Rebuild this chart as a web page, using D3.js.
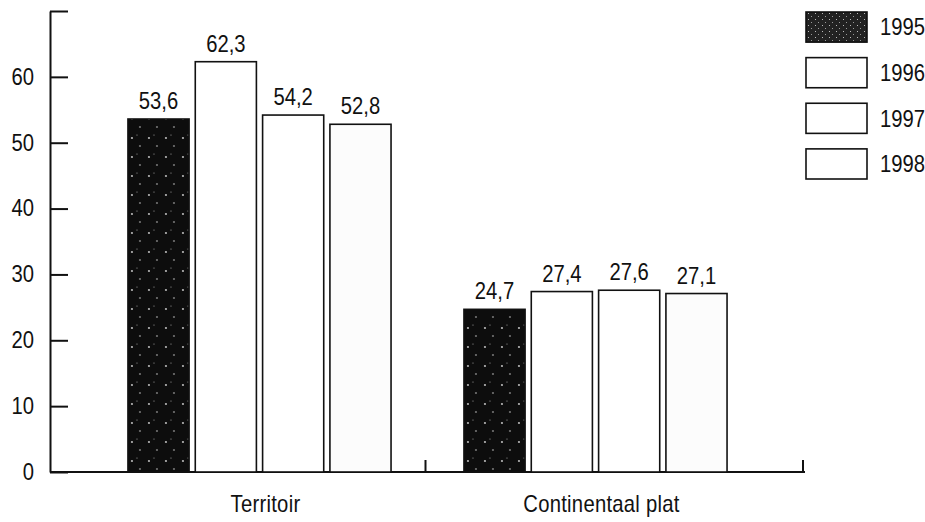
<!DOCTYPE html>
<html lang="nl">
<head>
    <meta charset="UTF-8">
    <title>Territoir en Continentaal plat 1995-1998</title>
    <script src="https://d3js.org/d3.v7.min.js"></script>
    <style>
        body {
            margin: 0;
            background: #fff;
        }
        svg text {
            font-family: "Liberation Sans", Arial, sans-serif;
            font-size: 23px;
            fill: #111;
        }
        .axis path, .axis line {
            stroke: #111;
            stroke-width: 2;
        }
        .bar {
            stroke: #111;
            stroke-width: 1.6;
        }
        text.cat {
            letter-spacing: 0.3px;
        }
    </style>
</head>
<body>
<div id="chart"></div>
<script>
    // data
    const groups = ["Territoir", "Continentaal plat"];
    const years = ["1995", "1996", "1997", "1998"];
    const territoir = [53.6, 62.3, 54.2, 52.8];
    const continentaal = [24.7, 27.4, 27.6, 27.1];
    const yTicks = [0, 10, 20, 30, 40, 50, 60, 70];

    const seriesByGroup = { "Territoir": territoir, "Continentaal plat": continentaal };

    const width = 925, height = 522;
    const squeeze = 0.88; // the original uses a condensed typeface

    const svg = d3.select("#chart").append("svg")
        .attr("width", width)
        .attr("height", height);

    // narrow the text horizontally while keeping its anchor point
    function condense(sel) {
        sel.each(function() {
            const t = d3.select(this);
            const x = +t.attr("x") || 0;
            t.attr("x", x / squeeze)
                .attr("transform", `scale(${squeeze},1)`);
        });
    }

    // dark speckled fill for 1995
    const defs = svg.append("defs");
    const pat = defs.append("pattern")
        .attr("id", "dark")
        .attr("width", 17).attr("height", 19)
        .attr("patternUnits", "userSpaceOnUse");
    pat.append("rect").attr("width", 17).attr("height", 19).attr("fill", "#0d0d0d");
    pat.append("circle").attr("cx", 4).attr("cy", 5).attr("r", 0.9).attr("fill", "#ddd");
    pat.append("circle").attr("cx", 12).attr("cy", 13).attr("r", 0.8).attr("fill", "#ccc");
    pat.append("circle").attr("cx", 9).attr("cy", 2).attr("r", 0.6).attr("fill", "#aaa");

    const legendPat = defs.append("pattern")
        .attr("id", "darkLegend")
        .attr("width", 7).attr("height", 6)
        .attr("patternUnits", "userSpaceOnUse");
    legendPat.append("rect").attr("width", 7).attr("height", 6).attr("fill", "#222");
    legendPat.append("rect").attr("x", 2).attr("y", 1).attr("width", 1).attr("height", 1).attr("fill", "#bbb");
    legendPat.append("rect").attr("x", 5).attr("y", 4).attr("width", 1).attr("height", 1).attr("fill", "#999");

    const fills = {
        "1995": "url(#dark)",
        "1996": "#fff",
        "1997": "#fff",
        "1998": "#fcfcfc"
    };

    const y = d3.scaleLinear()
        .domain([0, 70])
        .range([472, 11]);

    // sections of the x axis
    const xs = d3.scaleBand()
        .domain(groups)
        .range([50, 805]);

    const x0 = d3.scaleBand()
        .domain(groups)
        .range([50, 805])
        .paddingInner(0.217)
        .paddingOuter(0.232);

    const x1 = d3.scaleBand()
        .domain(years)
        .range([0, x0.bandwidth()])
        .paddingInner(0.092);

    const fmt = d3.formatLocale({ decimal: ",", thousands: ".", grouping: [3], currency: ["", ""] }).format(".1f");

    // Y axis with inward ticks
    svg.append("g")
        .attr("class", "axis")
        .attr("transform", "translate(50,0)")
        .call(d3.axisLeft(y)
            .tickValues(yTicks)
            .tickSizeInner(-18)
            .tickSizeOuter(0)
            .tickPadding(16)
            .tickFormat(d => d === 70 ? "" : d))
        .call(g => g.selectAll("text").attr("fill", "#111").call(condense));

    // X baseline with section ticks
    const xAxis = svg.append("g").attr("class", "axis");
    xAxis.append("line")
        .attr("x1", xs.range()[0]).attr("x2", xs.range()[1])
        .attr("y1", y(0)).attr("y2", y(0));
    xAxis.selectAll("line.div")
        .data(groups)
        .enter().append("line")
        .attr("class", "div")
        .attr("x1", d => xs(d) + xs.bandwidth() - 2)
        .attr("x2", d => xs(d) + xs.bandwidth() - 2)
        .attr("y1", y(0)).attr("y2", y(0) - 12);

    // bars
    const groupG = svg.selectAll("g.group")
        .data(groups)
        .enter().append("g")
        .attr("class", "group")
        .attr("transform", d => `translate(${x0(d)},0)`);

    groupG.selectAll("rect")
        .data(g => years.map((yr, i) => ({ year: yr, value: seriesByGroup[g][i] })))
        .enter().append("rect")
        .attr("class", "bar")
        .attr("x", d => x1(d.year))
        .attr("y", d => y(d.value))
        .attr("width", x1.bandwidth())
        .attr("height", d => y(0) - y(d.value))
        .attr("fill", d => fills[d.year]);

    groupG.selectAll("text.val")
        .data(g => years.map((yr, i) => ({ year: yr, value: seriesByGroup[g][i] })))
        .enter().append("text")
        .attr("class", "val")
        .attr("x", d => x1(d.year) + x1.bandwidth() / 2)
        .attr("y", d => y(d.value) - 10)
        .attr("text-anchor", "middle")
        .text(d => fmt(d.value))
        .call(condense);

    // group labels
    svg.selectAll("text.cat")
        .data(groups)
        .enter().append("text")
        .attr("class", "cat")
        .attr("x", d => x0(d) + x0.bandwidth() / 2 + 6)
        .attr("y", 512)
        .attr("text-anchor", "middle")
        .text(d => d)
        .call(condense);

    // legend
    const ly = d3.scaleBand()
        .domain(years)
        .range([12, 179])
        .paddingInner(0.34);

    const legend = svg.selectAll("g.legend")
        .data(years)
        .enter().append("g")
        .attr("class", "legend")
        .attr("transform", d => `translate(806,${ly(d)})`);

    legend.append("rect")
        .attr("width", 61)
        .attr("height", ly.bandwidth())
        .attr("fill", d => d === "1995" ? "url(#darkLegend)" : "#fff")
        .attr("stroke", "#111")
        .attr("stroke-width", 1.6);

    legend.append("text")
        .attr("x", 74)
        .attr("y", ly.bandwidth() / 2)
        .attr("dy", "0.36em")
        .text(d => d)
        .call(condense);
</script>
</body>
</html>
